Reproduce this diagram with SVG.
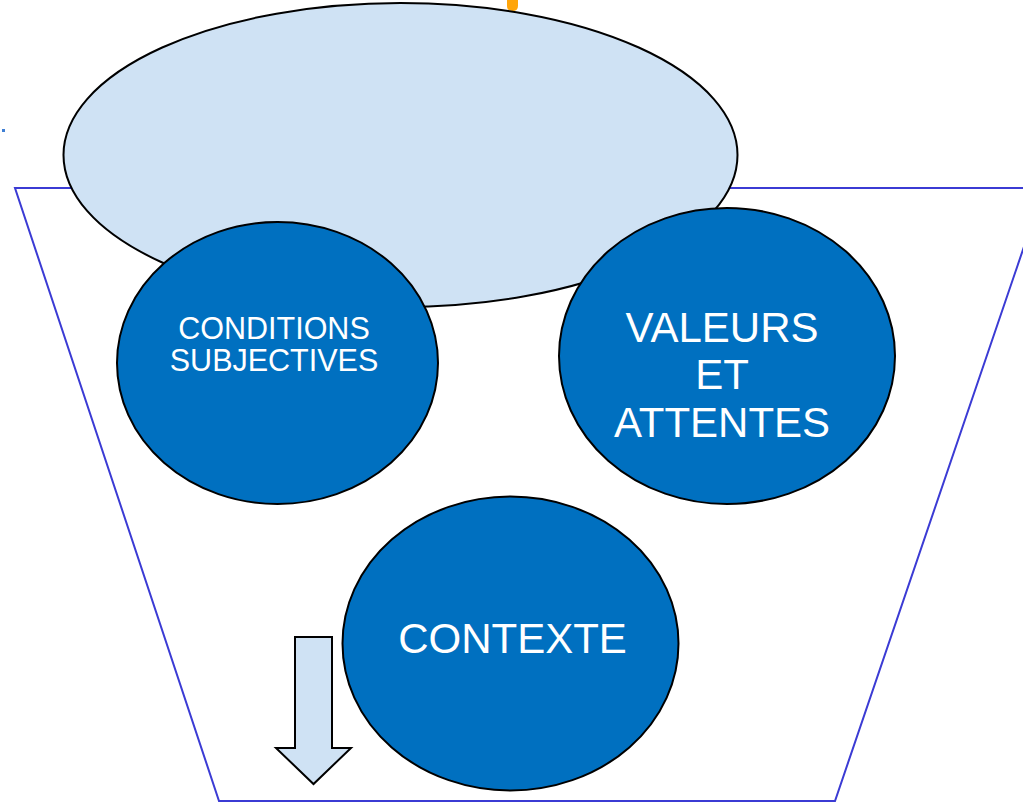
<svg xmlns="http://www.w3.org/2000/svg" width="1023" height="803" viewBox="0 0 1023 803">
  <style>
    .funnel { fill: none; stroke: #3b3bd4; stroke-width: 2; }
    .cloud { fill: #cfe2f4; stroke: #000; stroke-width: 2; }
    .circle { fill: #0070c0; stroke: #000; stroke-width: 2; }
    .label { fill: #fff; font-family: "Liberation Sans", Arial, sans-serif; text-anchor: middle; }
    .arrow { fill: #cfe2f4; stroke: #000; stroke-width: 2; stroke-linejoin: miter; }
  </style>
  <rect width="1023" height="803" fill="#fff"/>

  <!-- funnel outline -->
  <g id="funnel">
    <polyline class="funnel" points="1044,188 15,188 219,801 835,801 1044,188"/>
  </g>

  <!-- small marks -->
  <path d="M507,0 L518,0 L518,6 Q518,11 512.5,11 Q507,11 507,6 Z" fill="#ffa50a"/>
  <rect x="2" y="129" width="3" height="3" fill="#3f7fd4"/>

  <!-- top ellipse -->
  <g id="top-ellipse">
    <ellipse class="cloud" cx="400.5" cy="155" rx="337" ry="152"/>
  </g>

  <g id="conditions">
    <ellipse class="circle" cx="277.5" cy="363" rx="160.5" ry="141"/>
    <text class="label" font-size="30.5" x="274" y="339">CONDITIONS</text>
    <text class="label" font-size="30.5" x="274" y="371">SUBJECTIVES</text>
  </g>

  <g id="valeurs">
    <ellipse class="circle" cx="727" cy="356" rx="168" ry="148"/>
    <text class="label" font-size="42" x="722" y="341.5">VALEURS</text>
    <text class="label" font-size="42" x="722" y="389">ET</text>
    <text class="label" font-size="42" x="722" y="436.5">ATTENTES</text>
  </g>

  <g id="contexte">
    <ellipse class="circle" cx="510.5" cy="643.5" rx="168" ry="147"/>
    <text class="label" font-size="42" x="512.5" y="653">CONTEXTE</text>
  </g>

  <g id="connectors">
    <polygon class="arrow" points="295,637 332,637 332,748 351,748 313.5,784 276,748 295,748"/>
  </g>
</svg>
